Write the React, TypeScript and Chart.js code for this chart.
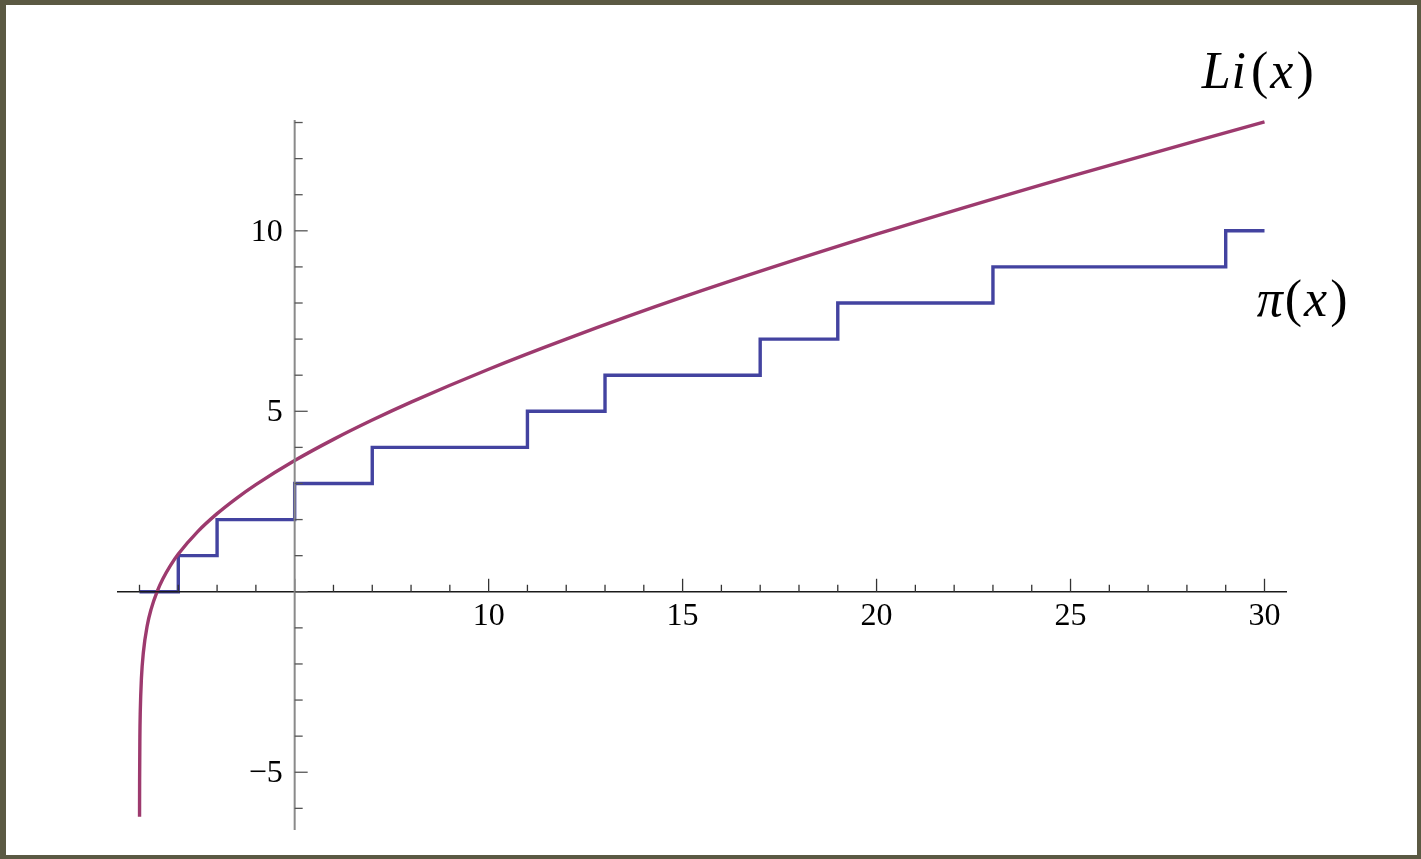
import React, { useEffect, useRef } from 'react';
import { Chart, registerables } from 'chart.js';

Chart.register(...registerables);

// Li(x) curve, values
const liX = [1.0011, 1.0015, 1.003, 1.01, 1.02, 1.05, 1.1, 1.2, 1.3, 1.4513, 1.6, 1.8, 2, 2.5, 3, 3.5, 4, 5, 6, 7, 8, 10, 12, 15, 20, 25, 30];
const liY = [-6.235, -5.924, -5.231, -4.023, -3.325, -2.394, -1.676, -0.934, -0.480, 0, 0.354, 0.733, 1.045, 1.667, 2.164, 2.589, 2.968, 3.635, 4.222, 4.757, 5.254, 6.166, 7.0, 8.16, 9.905, 11.51, 13.02];

// pi(x) step function
const primeX = [1, 2, 3, 5, 7, 11, 13, 17, 19, 23, 29, 30];
const primeCount = [0, 1, 2, 3, 4, 5, 6, 7, 8, 9, 10, 10];

// ticks
const xTicks = [1, 2, 3, 4, 5, 6, 7, 8, 9, 10, 11, 12, 13, 14, 15, 16, 17, 18, 19, 20, 21, 22, 23, 24, 25, 26, 27, 28, 29, 30];
const yTicks = [-6, -5, -4, -3, -2, -1, 0, 1, 2, 3, 4, 5, 6, 7, 8, 9, 10, 11, 12, 13];
const xTickLabels = [10, 15, 20, 25, 30];
const yTickLabels = [-5, 5, 10];

const LI_COLOR = '#9d3a6e';
const PI_COLOR = '#4343a0';

function drawMath(ctx: CanvasRenderingContext2D, parts: [string, boolean, number][], x: number, y: number, size: number) {
  let cx = x;
  for (const [t, italic, gap] of parts) {
    ctx.font = `${italic ? 'italic ' : ''}${size}px "Liberation Serif", serif`;
    ctx.fillText(t, cx, y);
    cx += ctx.measureText(t).width + gap;
  }
}

const axesPlugin = {
  id: 'mmaAxes',
  afterDatasetsDraw(chart: any) {
    const { ctx, chartArea } = chart;
    const xs = chart.scales.x;
    const ys = chart.scales.y;
    const ox = xs.getPixelForValue(5);
    const oy = ys.getPixelForValue(0);
    ctx.save();
    // x axis
    ctx.strokeStyle = '#1a1a1a';
    ctx.lineWidth = 1.5;
    ctx.beginPath();
    ctx.moveTo(chartArea.left, oy);
    ctx.lineTo(chartArea.right, oy);
    ctx.stroke();
    ctx.strokeStyle = '#333';
    ctx.lineWidth = 1.3;
    for (const v of xTicks) {
      const px = xs.getPixelForValue(v);
      const len = v % 5 === 0 ? 13 : 7;
      ctx.beginPath();
      ctx.moveTo(px, oy);
      ctx.lineTo(px, oy - len);
      ctx.stroke();
    }
    // y axis
    ctx.strokeStyle = '#8a8a8a';
    ctx.lineWidth = 2;
    ctx.beginPath();
    ctx.moveTo(ox, chartArea.top);
    ctx.lineTo(ox, chartArea.bottom);
    ctx.stroke();
    ctx.strokeStyle = '#555';
    ctx.lineWidth = 1.3;
    for (const v of yTicks) {
      const py = ys.getPixelForValue(v);
      const len = v % 5 === 0 ? 13 : 8;
      ctx.beginPath();
      ctx.moveTo(ox, py);
      ctx.lineTo(ox + len, py);
      ctx.stroke();
    }
    // tick labels
    ctx.fillStyle = '#000';
    ctx.font = '32px "Liberation Serif", serif';
    ctx.textBaseline = 'alphabetic';
    ctx.textAlign = 'center';
    for (const v of xTickLabels) {
      ctx.fillText(String(v), xs.getPixelForValue(v), oy + 33);
    }
    ctx.textAlign = 'right';
    for (const v of yTickLabels) {
      const t = v < 0 ? '\u2212' + Math.abs(v) : String(v);
      ctx.fillText(t, ox - 12, ys.getPixelForValue(v) + 10);
    }
    // curve labels
    ctx.textAlign = 'left';
    ctx.fillStyle = '#000';
    drawMath(ctx, [['L', true, 1], ['i', true, 5], ['(', false, 2], ['x', true, 3], [')', false, 0]],
      xs.getPixelForValue(28.38), ys.getPixelForValue(13.96), 52);
    drawMath(ctx, [['\u03C0', true, 2], ['(', false, 2], ['x', true, 3], [')', false, 0]],
      xs.getPixelForValue(29.8), ys.getPixelForValue(7.65), 52);
    ctx.restore();
  },
};

export default function App() {
  const ref = useRef<HTMLCanvasElement | null>(null);
  useEffect(() => {
    if (!ref.current) return;
    const chart = new Chart(ref.current, {
      type: 'line',
      data: {
        datasets: [
          {
            label: 'Li(x)',
            data: liX.map((x, i) => ({ x, y: liY[i] })),
            borderColor: LI_COLOR,
            borderWidth: 3.4,
            pointRadius: 0,
            cubicInterpolationMode: 'monotone',
            fill: false,
          },
          {
            label: 'π(x)',
            data: primeX.map((x, i) => ({ x, y: primeCount[i] })),
            borderColor: PI_COLOR,
            borderWidth: 3.4,
            pointRadius: 0,
            stepped: 'before',
            fill: false,
          },
        ],
      },
      options: {
        animation: false,
        responsive: false,
        devicePixelRatio: 1,
        layout: { padding: { left: 117, right: 134, top: 120, bottom: 29 } },
        plugins: { legend: { display: false }, tooltip: { enabled: false }, title: { display: false } },
        scales: {
          x: { type: 'linear', min: 0.42, max: 30.58, display: false },
          y: { type: 'linear', min: -6.6, max: 13.07, display: false },
        },
      },
      plugins: [axesPlugin],
    } as any);
    return () => chart.destroy();
  }, []);
  return (
    <div style={{ position: 'fixed', left: 0, top: 0, width: 1421, height: 859, background: '#fff' }}>
      <canvas ref={ref} width={1421} height={859} style={{ position: 'absolute', left: 0, top: 0, width: 1421, height: 859 }} />
      <div
        style={{
          position: 'absolute', left: 0, top: 0, width: 1421, height: 859, boxSizing: 'border-box',
          borderStyle: 'solid', borderColor: '#5b5943', borderWidth: '5px 4px 4px 6px', pointerEvents: 'none',
        }}
      />
    </div>
  );
}
